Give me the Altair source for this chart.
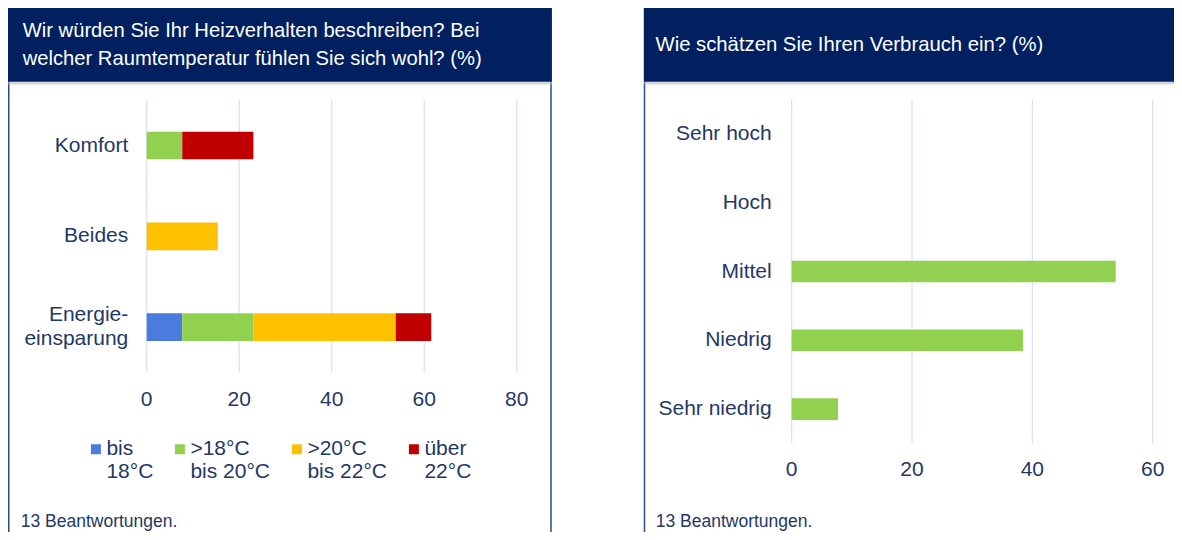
import altair as alt
import pandas as pd

# ---------------- data ----------------
heiz_categories = ["Komfort", "Beides", "Energie-\neinsparung"]
temp_groups = ["bis 18°C", ">18°C bis 20°C", ">20°C bis 22°C", "über 22°C"]
temp_colors = ["#4A7CDF", "#92D050", "#FFC000", "#C00000"]
komfort_values = [0.0, 7.69, 0.0, 15.38]
beides_values = [0.0, 0.0, 15.38, 0.0]
energie_values = [7.69, 15.38, 30.77, 7.69]
left_ticks = [0, 20, 40, 60, 80]

verbrauch_categories = ["Sehr hoch", "Hoch", "Mittel", "Niedrig", "Sehr niedrig"]
verbrauch_values = [0.0, 0.0, 53.85, 38.46, 7.69]
right_ticks = [0, 20, 40, 60]

left_title = ["Wir würden Sie Ihr Heizverhalten beschreiben? Bei",
              "welcher Raumtemperatur fühlen Sie sich wohl? (%)"]
right_title = "Wie schätzen Sie Ihren Verbrauch ein? (%)"
footer_text = "13 Beantwortungen."

# ---------------- styles ----------------
FONT = "Liberation Sans"
NAVY = "#1F3864"
HEADER = "#002060"
BORDER = "#2A4A8C"
GRID = "#D9E2F3"

W, H = 1166, 524

rows = []
for cat, vals in zip(heiz_categories, [komfort_values, beides_values, energie_values]):
    for i, (g, v) in enumerate(zip(temp_groups, vals)):
        rows.append({"kategorie": cat, "gruppe": g, "wert": v, "ordnung": i})
heiz_df = pd.DataFrame(rows)
heiz_cat_df = pd.DataFrame({"kategorie": heiz_categories})
verb_df = pd.DataFrame({"kategorie": verbrauch_categories, "wert": verbrauch_values})
lt_df = pd.DataFrame({"tick": left_ticks, "label": [str(t) for t in left_ticks]})
rt_df = pd.DataFrame({"tick": right_ticks, "label": [str(t) for t in right_ticks]})

one = alt.Data(values=[{"k": 1}])

lx = alt.Scale(domain=[0, 80], range=[138.7, 508.7], nice=False, zero=True)
ly = alt.Scale(domain=heiz_categories, range=[92.1, 364.6], paddingInner=0.695, paddingOuter=0.3475)
rx = alt.Scale(domain=[0, 80], range=[783.7, 1265.0], nice=False, zero=True)
ry = alt.Scale(domain=verbrauch_categories, range=[91.6, 435.4], paddingInner=0.684, paddingOuter=0.342)


def box(x1, x2, y1, y2, **kw):
    return alt.Chart(one).mark_rect(**kw).encode(
        x=alt.value(x1), x2=alt.value(x2), y=alt.value(y1), y2=alt.value(y2))


def label(text, x, y, **kw):
    return alt.Chart(one).mark_text(font=FONT, **kw).encode(
        x=alt.value(x), y=alt.value(y), text=alt.value(text))


# panel frames and headers
left_frame = box(0.75, 543, -2, 600, fill="white", stroke=BORDER, strokeWidth=1.5)
right_frame = box(636.5, 1400, -2, 600, fill="white", stroke=BORDER, strokeWidth=1.5)
left_shadow = box(0, 544, 73.7, 76.5, fill="#BDBDBD", opacity=0.6)
right_shadow = box(636, 1400, 73.7, 76.5, fill="#BDBDBD", opacity=0.6)
left_header = box(-1, 543.8, -2, 73.7, fill=HEADER)
right_header = box(636, 1400, -2, 73.7, fill=HEADER)

left_title_t = label(left_title, 14.7, 13.3, fontSize=20.2, color="white",
                     align="left", baseline="top", lineHeight=27.5)
right_title_t = label(right_title, 647.5, 26.5, fontSize=20.3, color="white",
                      align="left", baseline="top")
left_footer = label(footer_text, 12.7, 513.5, fontSize=17.5, color=NAVY,
                    align="left", baseline="middle")
right_footer = label(footer_text, 647.7, 513.5, fontSize=17.5, color=NAVY,
                     align="left", baseline="middle")

# left panel
left_grid = alt.Chart(lt_df).mark_rule(color=GRID, strokeWidth=1.3).encode(
    x=alt.X("tick:Q", scale=lx, axis=None),
    y=alt.value(92.1), y2=alt.value(364.6))

left_bars = alt.Chart(heiz_df).mark_bar().encode(
    x=alt.X("wert:Q", stack="zero", scale=lx, axis=None),
    y=alt.Y("kategorie:N", scale=ly, axis=None, sort=heiz_categories),
    color=alt.Color(
        "gruppe:N",
        scale=alt.Scale(domain=temp_groups, range=temp_colors),
        legend=alt.Legend(
            orient="none", legendX=77.4, legendY=430.5, direction="horizontal",
            columns=4, title=None, padding=0,
            symbolType="square", symbolSize=100,
            symbolStrokeWidth=0, symbolOpacity=1,
            labelFont=FONT, labelFontSize=21, labelColor=NAVY, labelLimit=0,
            labelOffset=0, columnPadding=16,
            labelExpr="[substring(datum.label, 0, indexof(datum.label, ' ')), "
                      "substring(datum.label, indexof(datum.label, ' ') + 1)]",
        ),
    ),
    order=alt.Order("ordnung:Q", sort="ascending"),
)

left_ticks_t = alt.Chart(lt_df).mark_text(
    font=FONT, fontSize=21, color=NAVY, align="center", baseline="middle").encode(
    x=alt.X("tick:Q", scale=lx, axis=None), y=alt.value(391.7), text="label:N")

left_cats_single = alt.Chart(heiz_cat_df).transform_filter(
    "indexof(datum.kategorie, '\\n') < 0"
).mark_text(
    font=FONT, fontSize=21, color=NAVY, align="right", baseline="middle").encode(
    x=alt.value(120.3),
    y=alt.Y("kategorie:N", scale=ly, axis=None, sort=heiz_categories),
    text="kategorie:N")

left_cats_multi = alt.Chart(heiz_cat_df).transform_filter(
    "indexof(datum.kategorie, '\\n') >= 0"
).mark_text(
    font=FONT, fontSize=21, color=NAVY, align="right", baseline="middle",
    lineBreak="\n", lineHeight=24, dy=-12).encode(
    x=alt.value(120.3),
    y=alt.Y("kategorie:N", scale=ly, axis=None, sort=heiz_categories),
    text="kategorie:N")

# right panel
right_grid = alt.Chart(rt_df).mark_rule(color=GRID, strokeWidth=1.3).encode(
    x=alt.X("tick:Q", scale=rx, axis=None),
    y=alt.value(91.6), y2=alt.value(435.4))

right_bars = alt.Chart(verb_df).mark_bar(color="#92D050").encode(
    x=alt.X("wert:Q", scale=rx, axis=None),
    y=alt.Y("kategorie:N", scale=ry, axis=None, sort=verbrauch_categories))

right_ticks_t = alt.Chart(rt_df).mark_text(
    font=FONT, fontSize=21, color=NAVY, align="center", baseline="middle").encode(
    x=alt.X("tick:Q", scale=rx, axis=None), y=alt.value(462), text="label:N")

right_cats = alt.Chart(verb_df).mark_text(
    font=FONT, fontSize=21, color=NAVY, align="right", baseline="middle").encode(
    x=alt.value(763.7),
    y=alt.Y("kategorie:N", scale=ry, axis=None, sort=verbrauch_categories),
    text="kategorie:N")

chart = alt.layer(
    left_frame, right_frame, left_shadow, right_shadow, left_header, right_header,
    left_title_t, right_title_t, left_footer, right_footer,
    left_grid, left_bars, left_ticks_t, left_cats_single, left_cats_multi,
    right_grid, right_bars, right_ticks_t, right_cats,
).resolve_scale(
    x="independent", y="independent", color="independent"
).properties(
    width=W, height=H, padding=0,
    autosize=alt.AutoSizeParams(type="none"),
).configure(font=FONT).configure_view(stroke="transparent", strokeWidth=0)

chart.save("out.html", embed_options={"renderer": "svg", "actions": False})
